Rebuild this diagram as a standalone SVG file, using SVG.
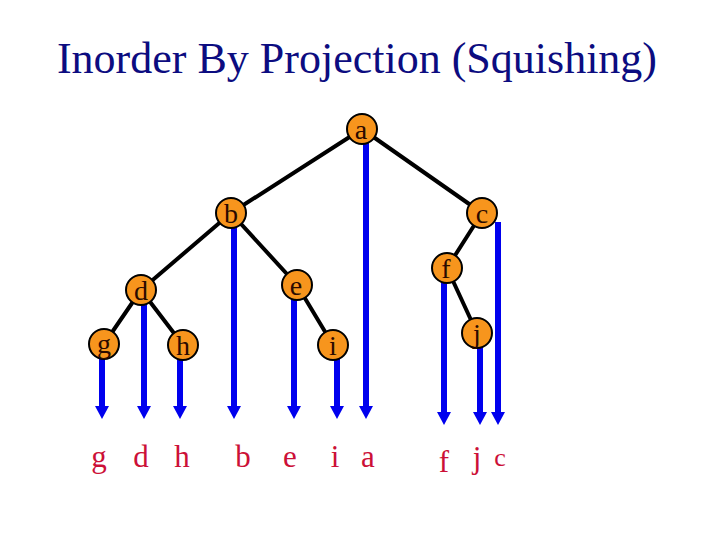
<svg xmlns="http://www.w3.org/2000/svg" width="720" height="540" viewBox="0 0 720 540">
  <defs>
    <style>
      .title { font-family: "Liberation Serif", "Times New Roman", serif; font-size: 44px; fill: #0c0c80; }
      .edge { stroke: #000000; stroke-width: 4; stroke-linecap: round; fill: none; }
      .proj { stroke: #0000ee; stroke-width: 6; fill: none; }
      .head { fill: #0000ee; }
      .node circle { fill: #f7951d; stroke: #000000; stroke-width: 2; }
      .node text { font-family: "Liberation Serif", "Times New Roman", serif; font-size: 28px; fill: #2a0a00; text-anchor: middle; }
      .out { font-family: "Liberation Serif", "Times New Roman", serif; font-size: 31px; fill: #cc1037; text-anchor: middle; }
    </style>
  </defs>
  <rect width="720" height="540" fill="#ffffff"/>
  <text class="title" x="357" y="73" text-anchor="middle">Inorder By Projection (Squishing)</text>

  <g id="connectors">
    <line class="edge" x1="362" y1="129" x2="231" y2="213"/>
    <line class="edge" x1="362" y1="129" x2="482" y2="213"/>
    <line class="edge" x1="231" y1="213" x2="141" y2="290"/>
    <line class="edge" x1="231" y1="213" x2="297" y2="285"/>
    <line class="edge" x1="141" y1="290" x2="104" y2="344"/>
    <line class="edge" x1="141" y1="290" x2="183" y2="345"/>
    <line class="edge" x1="297" y1="285" x2="333" y2="345"/>
    <line class="edge" x1="482" y1="213" x2="447" y2="268"/>
    <line class="edge" x1="447" y1="268" x2="477" y2="333"/>

    <line class="proj" x1="102" y1="344" x2="102" y2="407"/>
    <polygon class="head" points="95,406 109,406 102,419"/>
    <line class="proj" x1="144" y1="290" x2="144" y2="407"/>
    <polygon class="head" points="137,406 151,406 144,419"/>
    <line class="proj" x1="180" y1="345" x2="180" y2="407"/>
    <polygon class="head" points="173,406 187,406 180,419"/>
    <line class="proj" x1="234" y1="213" x2="234" y2="407"/>
    <polygon class="head" points="227,406 241,406 234,419"/>
    <line class="proj" x1="294" y1="285" x2="294" y2="407"/>
    <polygon class="head" points="287,406 301,406 294,419"/>
    <line class="proj" x1="337" y1="345" x2="337" y2="407"/>
    <polygon class="head" points="330,406 344,406 337,419"/>
    <line class="proj" x1="366" y1="129" x2="366" y2="407"/>
    <polygon class="head" points="359,406 373,406 366,419"/>
    <line class="proj" x1="444" y1="268" x2="444" y2="413"/>
    <polygon class="head" points="437,412 451,412 444,425"/>
    <line class="proj" x1="480" y1="333" x2="480" y2="413"/>
    <polygon class="head" points="473,412 487,412 480,425"/>
    <line class="proj" x1="498" y1="222" x2="498" y2="413"/>
    <polygon class="head" points="491,412 505,412 498,425"/>
  </g>

  <g id="node-a" class="node"><circle cx="362" cy="129" r="15"/><text x="361" y="139">a</text></g>
  <g id="node-b" class="node"><circle cx="231" cy="213" r="15"/><text x="231" y="223">b</text></g>
  <g id="node-c" class="node"><circle cx="482" cy="213" r="15"/><text x="482" y="223">c</text></g>
  <g id="node-d" class="node"><circle cx="141" cy="290" r="15"/><text x="141" y="300">d</text></g>
  <g id="node-e" class="node"><circle cx="297" cy="285" r="15"/><text x="296" y="295">e</text></g>
  <g id="node-f" class="node"><circle cx="447" cy="268" r="15"/><text x="446" y="278">f</text></g>
  <g id="node-g" class="node"><circle cx="104" cy="344" r="15"/><text x="104" y="353">g</text></g>
  <g id="node-h" class="node"><circle cx="183" cy="345" r="15"/><text x="183" y="355">h</text></g>
  <g id="node-i" class="node"><circle cx="333" cy="345" r="15"/><text x="333" y="355">i</text></g>
  <g id="node-j" class="node"><circle cx="477" cy="333" r="15"/><text x="477" y="343">j</text></g>

  <g id="order">
    <text class="out" x="99" y="467">g</text>
    <text class="out" x="141" y="467">d</text>
    <text class="out" x="182" y="467">h</text>
    <text class="out" x="243" y="467">b</text>
    <text class="out" x="290" y="467">e</text>
    <text class="out" x="335" y="467">i</text>
    <text class="out" x="368" y="467">a</text>
    <text class="out" x="444" y="472">f</text>
    <text class="out" x="477" y="468">j</text>
    <text class="out" x="500" y="466" style="font-size:26px">c</text>
  </g>
</svg>
